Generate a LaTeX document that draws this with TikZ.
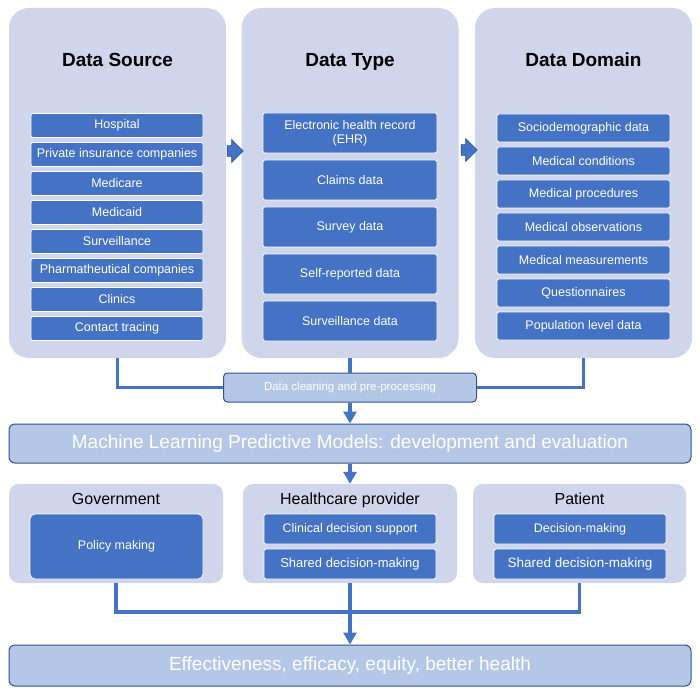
\documentclass[tikz,border=0pt]{standalone}
\usepackage{fontspec}
\setmainfont{Liberation Sans}
\usetikzlibrary{shapes.geometric, shapes.arrows, arrows}
\usetikzlibrary{positioning}
\usepackage{xcolor}
\usetikzlibrary{arrows.meta}
\usetikzlibrary{backgrounds}

\definecolor{itemblue}{HTML}{4472C4}
\definecolor{panelblue}{HTML}{CFD5EA}
\definecolor{barblue}{HTML}{B4C7E7}
\definecolor{edgeblue}{HTML}{2F528F}

\begin{document}
\begin{tikzpicture}[x=1pt, y=-1pt, >={Triangle[width=13pt,length=12pt]},
  panel/.style={fill=panelblue, rounded corners=20pt, minimum width=217pt, minimum height=350pt, inner sep=0pt},
  lowpanel/.style={fill=panelblue, rounded corners=10pt, minimum width=214pt, minimum height=99pt, inner sep=0pt},
  title/.style={font=\fontsize{19}{22}\selectfont\bfseries, text height=14pt, text depth=4pt},
  subtitle/.style={font=\fontsize{16}{19}\selectfont, text height=12pt, text depth=3.5pt},
  item/.style={fill=itemblue, draw=white, line width=0.8pt, rounded corners=2pt, text=white, align=center,
    font=\fontsize{12.5}{14}\selectfont, inner sep=1pt},
  bar/.style={fill=barblue, draw=edgeblue, line width=1pt, rounded corners=6pt, text=white},
  block arrow/.style={single arrow, fill=itemblue, draw=edgeblue, line width=0.6pt, minimum height=16pt,
    minimum width=23pt, inner sep=5pt, single arrow head extend=6pt},
  link/.style={draw=itemblue, line width=3.5pt},
  ]

\fill[white] (0,0) rectangle (700,692);
\useasboundingbox (0,0) rectangle (700,692);

% Top panels
\node[panel] (src) at (117.5,183) {};
\node[panel] (type) at (350,183) {};
\node[panel] (dom) at (583.5,183) {};
\node[title] (src-title) at (117.5,62) {Data Source};
\node[title] (type-title) at (350,62) {Data Type};
\node[title] (dom-title) at (583.5,62) {Data Domain};

% Data source items
\foreach \t [count=\y] in {Hospital, Private insurance companies, Medicare, Medicaid,
    Surveillance, Pharmatheutical companies, Clinics, Contact tracing}
  \node[item, minimum width=172pt, minimum height=24pt] (src-\y) at (117,{125.5+29*(\y-1)}) {\t};

% Data type items
\foreach \t [count=\y] in {{Electronic health record\\(EHR)}, Claims data, Survey data,
    Self-reported data, Surveillance data}
  \node[item, minimum width=174pt, minimum height=40pt] (type-\y) at (350,{133+47*(\y-1)}) {\t};

% Data domain items
\foreach \t [count=\y] in {Sociodemographic data, Medical conditions, Medical procedures,
    Medical observations, Medical measurements, Questionnaires, Population level data}
  \node[item, minimum width=173pt, minimum height=28pt] (dom-\y) at (583.5,{128+33*(\y-1)}) {\t};

% Arrows between panels
\node[block arrow] (arrow-1) at (232.5,151) {};
\node[block arrow] (arrow-2) at (466.5,150) {};

% Cleaning and models
\node[bar, rounded corners=4pt, minimum width=253pt, minimum height=29pt, font=\fontsize{11.5}{13}\selectfont]
  (clean) at (350,387.5) {Data cleaning and pre-processing};
\node[bar, minimum width=682pt, minimum height=39pt, font=\fontsize{19}{22}\selectfont]
  (ml) at (350,443.5) {Machine Learning Predictive Models: development and evaluation};

% Bottom panels
\node[lowpanel] (gov) at (116,533.5) {};
\node[lowpanel] (hc) at (350,533.5) {};
\node[lowpanel, minimum width=213pt] (pat) at (579.5,533.5) {};
\node[subtitle] (gov-title) at (116,500) {Government};
\node[subtitle] (hc-title) at (350,500) {Healthcare provider};
\node[subtitle] (pat-title) at (579.5,500) {Patient};

\node[item, rounded corners=5pt, minimum width=173pt, minimum height=65pt] (gov-1) at (116.5,546.5) {Policy making};
\node[item, minimum width=172pt, minimum height=30pt] (hc-1) at (350,529) {Clinical decision support};
\node[item, minimum width=172pt, minimum height=30pt, font=\fontsize{13}{15}\selectfont] (hc-2) at (350,564) {Shared decision-making};
\node[item, minimum width=172pt, minimum height=30pt] (pat-1) at (580,529) {Decision-making};
\node[item, minimum width=172pt, minimum height=30pt, font=\fontsize{13.5}{15}\selectfont] (pat-2) at (580,564) {Shared decision-making};

\node[bar, minimum width=682pt, minimum height=41pt, font=\fontsize{19}{22}\selectfont]
  (out) at (350,665.5) {Effectiveness, efficacy, equity, better health};

% Connections
\coordinate (join) at (350,612);
\draw[link] (src.south) |- (clean.west);
\draw[link] (dom.south) |- (clean.east);
\draw[link] (type.south) -- (clean.north);
\draw[link, ->] (clean.south) -- (ml.north);
\draw[link, ->] (ml.south) -- (hc.north);
\draw[link] (gov.south) |- (join);
\draw[link] (pat.south) |- (join);
\draw[link, ->] (hc.south) -- (out.north);

\end{tikzpicture}
\end{document}
